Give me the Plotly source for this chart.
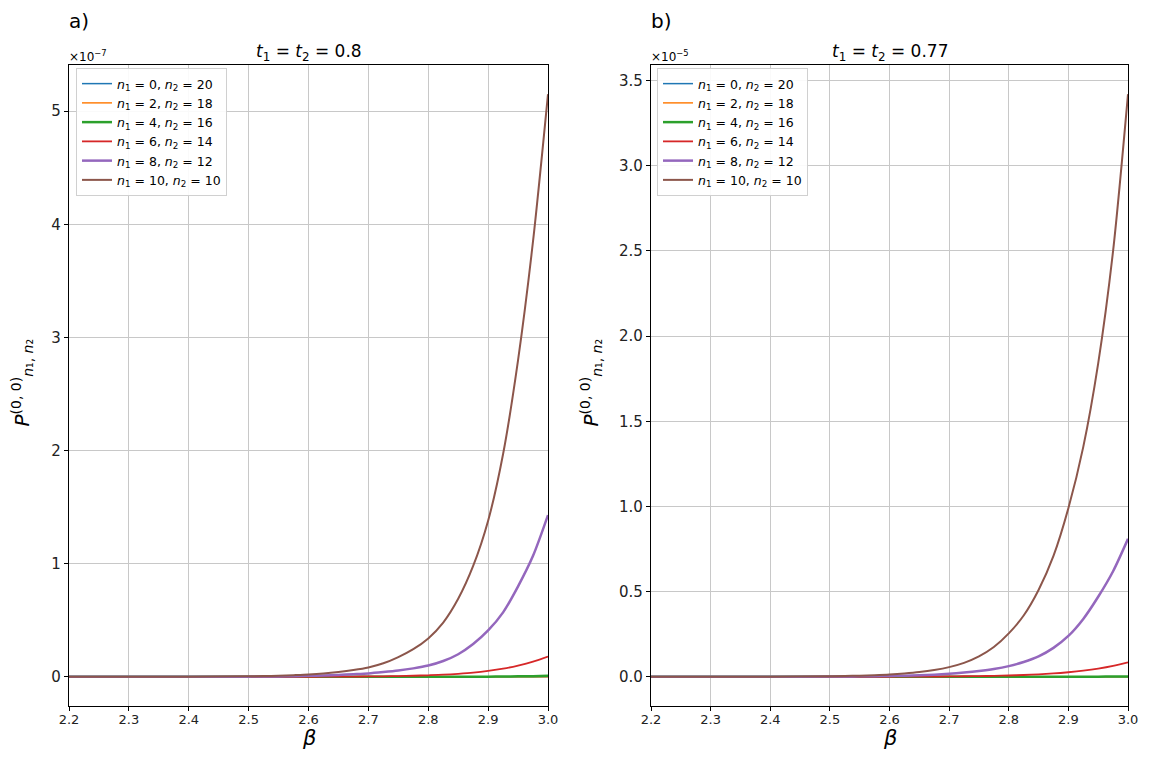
import plotly.graph_objects as go

# beta grid
beta = [2.2, 2.3, 2.4, 2.5, 2.525, 2.55, 2.575, 2.6, 2.625, 2.65, 2.675, 2.7,
        2.725, 2.75, 2.775, 2.8, 2.825, 2.85, 2.875, 2.9, 2.925, 2.95, 2.975, 3.0]

# panel a) values in units of 1e-7
a_n0 = [0] * 24
a_n2 = [0, 0, 0, 0, 0, 0, 0, 0, 0, 0, 0, 0, 0, 0, 0, 0.0001, 0.0001, 0.0001, 0.0002, 0.0002, 0.0003, 0.0003, 0.0004, 0.0005]
a_n4 = [0, 0, 0, 0, 0, 0, 0, 0, 0, 0, 0, 0.0001, 0.0002, 0.0003, 0.0004, 0.0006, 0.0008, 0.0011, 0.0015, 0.002, 0.003, 0.0045, 0.0065, 0.009]
a_n6 = [0, 0, 0, 0.0003, 0.0004, 0.0005, 0.0007, 0.001, 0.0013, 0.0019, 0.0026, 0.0036, 0.005, 0.007, 0.01, 0.014, 0.019, 0.027, 0.037, 0.052, 0.072, 0.10, 0.135, 0.18]
a_n8 = [0, 0, 0.0005, 0.002, 0.003, 0.004, 0.006, 0.009, 0.012, 0.017, 0.023, 0.03, 0.042, 0.056, 0.075, 0.10, 0.14, 0.20, 0.29, 0.41, 0.57, 0.80, 1.07, 1.43]
a_n10 = [0, 0.0002, 0.001, 0.005, 0.007, 0.01, 0.015, 0.021, 0.03, 0.043, 0.06, 0.083, 0.12, 0.175, 0.245, 0.34, 0.48, 0.69, 0.98, 1.38, 1.97, 2.8, 3.85, 5.15]

# panel b) values in units of 1e-5
b_n0 = [0] * 24
b_n2 = [0, 0, 0, 0, 0, 0, 0, 0, 0, 0, 0, 0, 0, 0, 0, 0, 0.0001, 0.0001, 0.0001, 0.0001, 0.0002, 0.0002, 0.0002, 0.0003]
b_n4 = [0, 0, 0, 0, 0, 0, 0, 0, 0, 0, 0, 0, 0.0001, 0.0001, 0.0002, 0.0002, 0.0003, 0.0004, 0.0006, 0.0008, 0.001, 0.0013, 0.0016, 0.002]
b_n6 = [0, 0, 0, 0.0002, 0.0003, 0.0004, 0.0005, 0.0007, 0.001, 0.0014, 0.0019, 0.0026, 0.0035, 0.0045, 0.006, 0.008, 0.011, 0.015, 0.02, 0.027, 0.036, 0.048, 0.064, 0.085]
b_n8 = [0, 0, 0.0003, 0.0015, 0.002, 0.003, 0.004, 0.005, 0.007, 0.01, 0.013, 0.018, 0.025, 0.034, 0.046, 0.063, 0.087, 0.12, 0.17, 0.24, 0.34, 0.47, 0.62, 0.81]
b_n10 = [0, 0.0002, 0.0008, 0.003, 0.005, 0.007, 0.01, 0.014, 0.02, 0.028, 0.04, 0.057, 0.082, 0.12, 0.175, 0.255, 0.36, 0.51, 0.71, 0.99, 1.35, 1.84, 2.5, 3.42]

labels = [(0, 20), (2, 18), (4, 16), (6, 14), (8, 12), (10, 10)]
colors = ["#1f77b4", "#ff7f0e", "#2ca02c", "#d62728", "#9467bd", "#8c564b"]
widths = [1.5, 1.5, 2.5, 1.8, 2.5, 2.0]

# page has an 8px body margin: figure is drawn 8px in from the window corner
OFF = 8
W, H = 1155 - 2 * OFF, 758 - 2 * OFF
L, R, T, B = 69, 1128, 65, 706          # plot area in window pixels
def px(x): return (x - L) / (R - L)
def py(y): return (B - y) / (B - T)

fig = go.Figure()
font = "DejaVu Sans"

for series, ax, leg in [([a_n0, a_n2, a_n4, a_n6, a_n8, a_n10], "", "legend"),
                        ([b_n0, b_n2, b_n4, b_n6, b_n8, b_n10], "2", "legend2")]:
    for s, (n1, n2), c, w in zip(series, labels, colors, widths):
        fig.add_trace(go.Scatter(
            x=beta, y=s, mode="lines", line=dict(color=c, width=w, shape="spline", smoothing=0.8),
            name=f"<i>n</i><sub>1</sub> = {n1}, <i>n</i><sub>2</sub> = {n2}",
            xaxis="x" + ax, yaxis="y" + ax, legend=leg))

axcommon = dict(showline=True, linecolor="black", linewidth=1.2, mirror=True,
                ticks="outside", ticklen=4, tickcolor="black", automargin=False,
                showgrid=True, gridcolor="#c8c8c8", gridwidth=1, zeroline=False)
xfont = dict(family=font, size=13, color="#222")
yfont = dict(family=font, size=15, color="#222")

fig.update_layout(
    width=W, height=H,
    margin=dict(l=L - OFF, r=(W + OFF) - R, t=T - OFF, b=(H + OFF) - B),
    plot_bgcolor="white", paper_bgcolor="white",
    font=dict(family=font, color="black"),
    xaxis=dict(domain=[0, px(548)], range=[2.2, 3.0], dtick=0.1, tickformat=".1f", anchor="y",
               tickfont=xfont, ticklabelstandoff=-3, **axcommon),
    yaxis=dict(domain=[0, 1], range=[-0.2575, 5.4075], dtick=1, tickformat="d", anchor="x",
               tickfont=yfont, **axcommon),
    xaxis2=dict(domain=[px(651), 1], range=[2.2, 3.0], dtick=0.1, tickformat=".1f", anchor="y2",
                tickfont=xfont, ticklabelstandoff=-3, **axcommon),
    yaxis2=dict(domain=[0, 1], range=[-0.171, 3.591], dtick=0.5, tickformat=".1f", anchor="x2",
                tickfont=yfont, **axcommon),
    legend=dict(x=px(76), y=py(68), xanchor="left", yanchor="top", bgcolor="rgba(255,255,255,0.9)",
                bordercolor="#d0d0d0", borderwidth=1, font=dict(family=font, size=12.5),
                tracegroupgap=0, itemwidth=30),
    legend2=dict(x=px(657), y=py(68), xanchor="left", yanchor="top", bgcolor="rgba(255,255,255,0.9)",
                 bordercolor="#d0d0d0", borderwidth=1, font=dict(family=font, size=12.5),
                 tracegroupgap=0, itemwidth=30),
)

ann = []
for cx, t, lab, off, yx, left in [((69 + 548) / 2, "0.8", "a)", "7", 5, 69),
                                  ((651 + 1128) / 2, "0.77", "b)", "5", 574, 651)]:
    ann.append(dict(x=px(cx), y=py(52), xref="paper", yref="paper", showarrow=False,
                    xanchor="center", yanchor="middle",
                    text=f"<i>t</i><sub>1</sub> = <i>t</i><sub>2</sub> = {t}", font=dict(size=17)))
    ann.append(dict(x=px(left - 2), y=py(21), xref="paper", yref="paper", showarrow=False,
                    xanchor="left", yanchor="middle", text=lab, font=dict(size=20)))
    ann.append(dict(x=px(left - 2), y=py(56), xref="paper", yref="paper", showarrow=False,
                    xanchor="left", yanchor="middle", text=f"×10<sup>−{off}</sup>", font=dict(size=12)))
    ann.append(dict(x=px(yx), y=py(383), xref="paper", yref="paper", showarrow=False, textangle=-90,
                    xanchor="left", yanchor="middle",
                    text="<i>P</i><sup>(0, 0)</sup><sub><i>n</i>₁, <i>n</i>₂</sub>", font=dict(size=20)))
    ann.append(dict(x=px(cx), y=py(738), xref="paper", yref="paper", showarrow=False,
                    xanchor="center", yanchor="middle", text="<i>β</i>", font=dict(size=21)))
fig.update_layout(annotations=ann)

fig.write_html("out.html")
